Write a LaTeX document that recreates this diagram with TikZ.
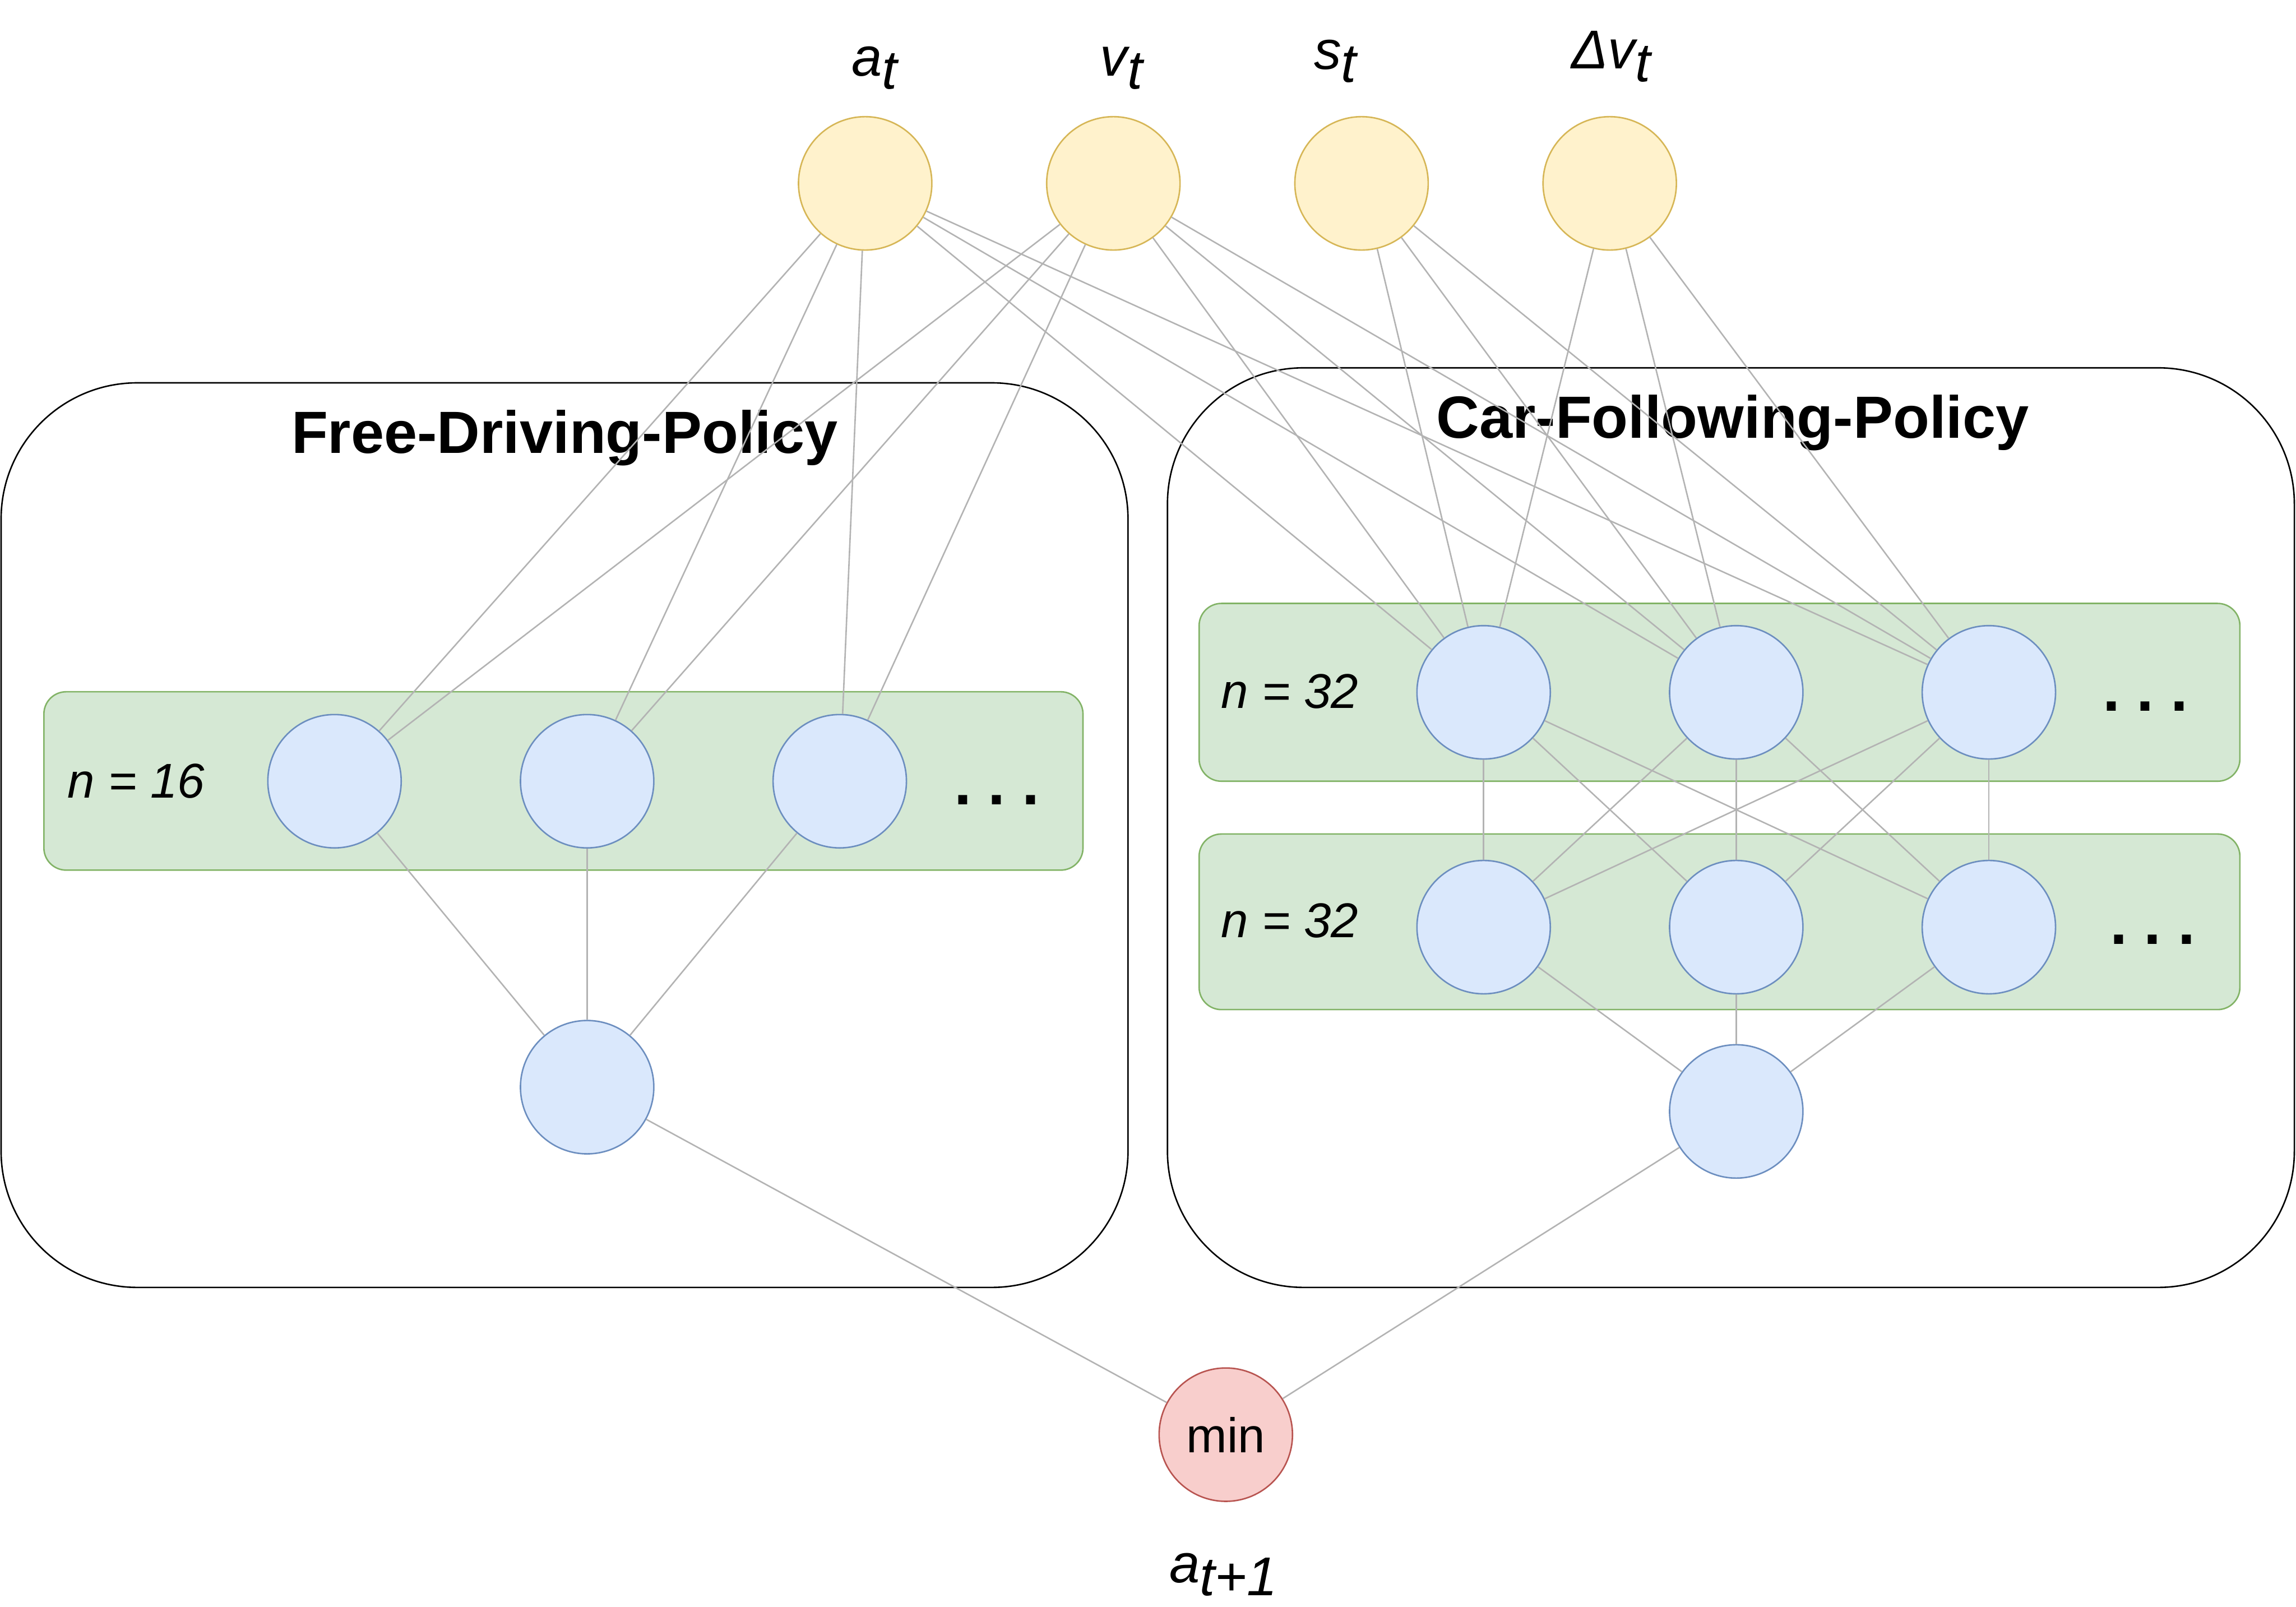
\documentclass[tikz,border=0pt]{standalone}
\usepackage{fontspec}
\setmainfont{Liberation Sans}
\definecolor{InFill}{RGB}{255, 242, 204}
\definecolor{InLine}{RGB}{214, 182, 86}
\definecolor{CellFill}{RGB}{218, 232, 252}
\definecolor{CellLine}{RGB}{108, 142, 191}
\definecolor{MinFill}{RGB}{248, 206, 204}
\definecolor{MinLine}{RGB}{184, 84, 80}
\definecolor{BandFill}{RGB}{213, 232, 212}
\definecolor{BandLine}{RGB}{130, 179, 102}
\definecolor{EdgeGray}{RGB}{179, 179, 179}
\usetikzlibrary{positioning}
\newcommand{\lowsub}[1]{\raisebox{-0.23cm}{#1}}
\newcommand{\moredots}{.\hspace{0.3cm}.\hspace{0.3cm}.}

\begin{document}
\begin{tikzpicture}[
            node distance=2.04cm,
            policy/.style={rectangle, rounded corners=2.45cm, draw=black, line width=0.75pt,
                           minimum width=20.28cm, inner sep=0pt},
            band/.style={rectangle, rounded corners=0.4cm, draw=BandLine, fill=BandFill,
                         line width=0.75pt, inner sep=0pt},
            invar/.style={circle, draw=InLine, fill=InFill, line width=0.75pt,
                          minimum size=2.4cm, inner sep=0pt},
            cell/.style={circle, draw=CellLine, fill=CellFill, line width=0.75pt,
                         minimum size=2.4cm, inner sep=0pt},
            minop/.style={circle, draw=MinLine, fill=MinFill, line width=0.75pt,
                          minimum size=2.4cm, inner sep=0pt, font=\fontsize{25}{30}\selectfont},
            varlabel/.style={anchor=base, inner sep=0pt, font=\fontsize{28}{34}\selectfont\itshape},
            title/.style={anchor=base, inner sep=0pt, font=\fontsize{30.5}{36}\selectfont\bfseries},
            width/.style={anchor=base west, inner sep=0pt, font=\fontsize{25}{30}\selectfont\itshape},
            more/.style={anchor=base, inner sep=0pt, font=\fontsize{32}{38}\selectfont\bfseries},
            link/.style={draw=EdgeGray, line width=0.75pt}
        ]
            \useasboundingbox (0,0) rectangle (41.32,-28.92);

            % policy boxes and layer bands
            \node[policy, minimum height=16.28cm] (fdbox) at (10.16,-15.03) {};
            \node[policy, minimum height=16.55cm] (cfbox) at (31.15,-14.895) {};
            \node[title] (fdtitle) at (10.16,-8.16) {Free-Driving-Policy};
            \node[title] (cftitle) at (31.18,-7.88) {Car-Following-Policy};

            \node[band, minimum width=18.70cm, minimum height=3.21cm] (fdband) at (10.14,-14.055) {};
            \node[band, minimum width=18.73cm, minimum height=3.20cm] (cfbanda) at (30.945,-12.46) {};
            \node[band, minimum width=18.73cm, minimum height=3.16cm] (cfbandb) at (30.945,-16.59) {};

            \node[width] (fdn) at (1.21,-14.36) {n = 16};
            \node[width] (cfna) at (21.97,-12.75) {n = 32};
            \node[width] (cfnb) at (21.97,-16.87) {n = 32};
            \node[more] (fdmore) at (17.94,-14.48) {\moredots};
            \node[more] (cfmorea) at (38.61,-12.80) {\moredots};
            \node[more] (cfmoreb) at (38.74,-16.99) {\moredots};

            % inputs
            \node[invar] (at) at (15.57,-3.30) {};
            \node[invar, right=of at] (vt) {};
            \node[invar, right=of vt] (st) {};
            \node[invar, right=of st] (dvt) {};
            \node[varlabel] (atlbl) at (15.74,-1.37) {a\lowsub{t}};
            \node[varlabel] (vtlbl) at (20.18,-1.37) {v\lowsub{t}};
            \node[varlabel] (stlbl) at (24.03,-1.25) {s\lowsub{t}};
            \node[varlabel] (dvtlbl) at (28.99,-1.24) {Δv\lowsub{t}};

            % free driving net
            \node[cell] (fd1) at (6.02,-14.06) {};
            \node[cell, right=2.12cm of fd1] (fd2) {};
            \node[cell, right=2.12cm of fd2] (fd3) {};
            \node[cell, below=3.08cm of fd2] (fdout) {};

            % car following net
            \node[cell] (cfa1) at (26.70,-12.46) {};
            \node[cell, right=2.12cm of cfa1] (cfa2) {};
            \node[cell, right=2.12cm of cfa2] (cfa3) {};
            \node[cell, below=1.80cm of cfa1] (cfb1) {};
            \node[cell, below=1.80cm of cfa2] (cfb2) {};
            \node[cell, below=1.80cm of cfa3] (cfb3) {};
            \node[cell, below=0.89cm of cfb2] (cfout) {};

            \node[minop] (amin) at (22.06,-25.82) {min};
            \node[varlabel] (nextlbl) at (22.02,-28.48) {a\lowsub{t+1}};

            \foreach \src in {at, vt}
                \foreach \dst in {fd1, fd2, fd3}
                    \draw[link] (\src) -- (\dst);
            \foreach \src in {at, vt, st, dvt}
                \foreach \dst in {cfa1, cfa2, cfa3}
                    \draw[link] (\src) -- (\dst);
            \foreach \i in {1,2,3} {
                \draw[link] (fd\i) -- (fdout);
                \draw[link] (cfb\i) -- (cfout);
                \foreach \j in {1,2,3}
                    \draw[link] (cfa\i) -- (cfb\j);
            }
            \draw[link] (fdout) -- (amin);
            \draw[link] (cfout) -- (amin);
        \end{tikzpicture}
\end{document}
